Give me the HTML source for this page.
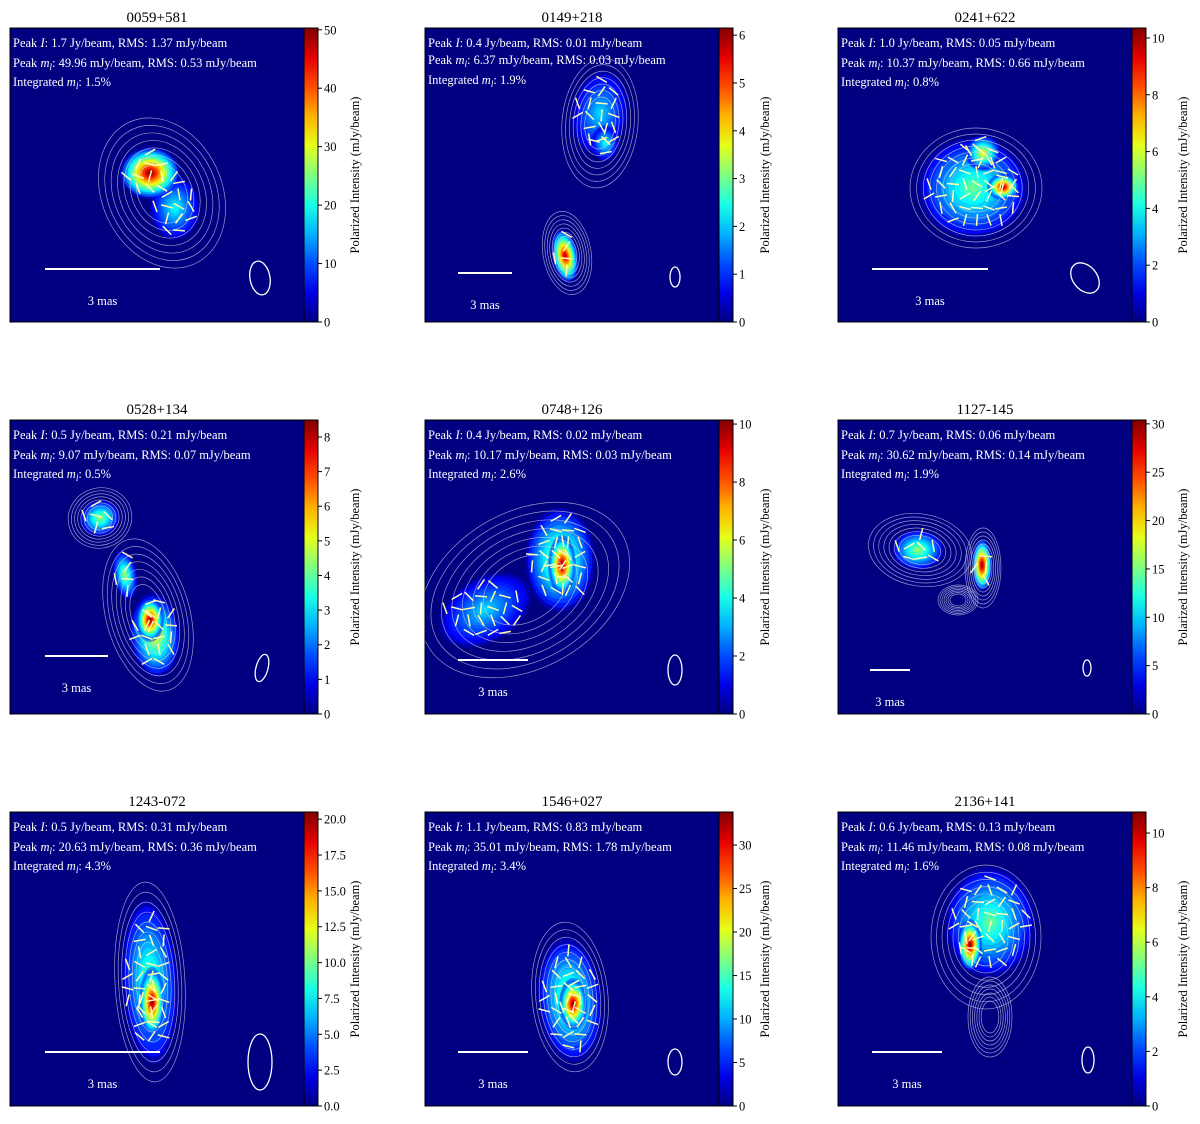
<!DOCTYPE html>
<html><head><meta charset="utf-8">
<style>
body{margin:0;background:#fff;}
svg text{font-family:"Liberation Serif","DejaVu Serif",serif;}
</style></head>
<body>
<svg id="fig" width="1200" height="1119" xmlns="http://www.w3.org/2000/svg"></svg>
<script>
// ---- data arrays ----
const titles=["0059+581","0149+218","0241+622","0528+134","0748+126","1127-145","1243-072","1546+027","2136+141"];
const peakI=["1.7","0.4","1.0","0.5","0.4","0.7","0.5","1.1","0.6"];
const rmsI=["1.37","0.01","0.05","0.21","0.02","0.06","0.31","0.83","0.13"];
const peakP=["49.96","6.37","10.37","9.07","10.17","30.62","20.63","35.01","11.46"];
const rmsP=["0.53","0.03","0.66","0.07","0.03","0.14","0.36","1.78","0.08"];
const intM=["1.5","1.9","0.8","0.5","2.6","1.9","4.3","3.4","1.6"];
const cbMax=[50.3,6.15,10.35,8.49,10.14,30.4,20.5,33.8,10.77];
const cbStep=[10,1,2,1,2,5,2.5,5,2];
const cbDec=[0,0,0,0,0,0,1,0,0];
// blob components per panel: [cx, cy, rx, ry, rot, amplitude(fraction of peak)]
const blobs=[
 [[165,180,25,32,0,0.35],[140,145,30,26,0,1.0]],
 [[175,85,28,42,10,0.3],[180,115,14,18,0,0.35],[140,228,13,27,-10,0.95]],
 [[135,160,55,50,0,0.45],[145,125,18,18,0,0.6],[165,159,16,13,0,1.0]],
 [[90,98,20,18,-20,0.5],[115,155,12,25,-10,0.5],[145,215,25,42,-5,0.6],[140,200,14,22,0,1.0]],
 [[60,190,50,32,-30,0.3],[135,140,35,52,0,0.55],[137,145,14,30,0,1.0]],
 [[80,130,26,20,0,0.5],[144,145,10,26,0,1.0]],
 [[140,170,28,82,-3,0.45],[142,190,13,35,0,1.0]],
 [[145,188,32,62,-5,0.5],[148,192,14,26,0,1.0]],
 [[152,110,45,55,0,0.45],[132,133,12,26,0,1.0]]
];
// contour envelopes per panel: [cx, cy, rx, ry, rot]
const contours=[
 [[152,165,60,78,-25]],
 [[175,95,38,65,5],[142,225,24,42,-10]],
 [[138,160,66,60,0]],
 [[90,98,32,30,-20],[138,195,42,78,-15]],
 [[100,170,112,78,-30]],
 [[82,130,52,36,10],[145,148,18,40,0],[120,180,20,15,0]],
 [[140,170,35,100,-3]],
 [[145,185,38,75,-5]],
 [[148,125,55,72,0],[152,205,22,40,0]]
];
const scaleBar=[[35,150,241],[33,87,245],[34,150,241],[35,98,236],[33,103,240],[32,72,250],[35,150,240],[33,103,240],[34,104,240]];
const beams=[[250,250,10,17,-10],[250,249,5,10,0],[247,250,12,17,-40],[252,248,6,14,15],[250,250,7,15,0],[249,248,4,8,0],[250,250,12,28,0],[250,250,7,13,0],[250,248,6,13,0]];
const angles=[20,-60,75,-15,45,-80,10,60,-35,85,-5,30,-70,50,-25,70];

const NS="http://www.w3.org/2000/svg";
const svg=document.getElementById('fig');
function el(t,a,p){const e=document.createElementNS(NS,t);for(const k in a)e.setAttribute(k,a[k]);(p||svg).appendChild(e);return e;}
function jet(v){v=Math.max(0,Math.min(1,v));
 const r=Math.min(1,Math.max(0,1.5-Math.abs(4*v-3))),g=Math.min(1,Math.max(0,1.5-Math.abs(4*v-2))),b=Math.min(1,Math.max(0,1.5-Math.abs(4*v-1)));
 return `rgb(${Math.round(r*255)},${Math.round(g*255)},${Math.round(b*255)})`;}
const colX=[10,425,838],rowY=[28,420,812],S=294;
titles.forEach((t,i)=>{
 const x0=colX[i%3],y0=rowY[Math.floor(i/3)];
 const g=el('g',{transform:`translate(${x0},${y0})`});
 
 
 const tt=el('text',{x:S/2,y:-6,'text-anchor':'middle','font-size':15,fill:'#000'},g);tt.textContent=t;
 
 
 el('clipPath',{id:'c'+i},g).appendChild(el('rect',{x:0,y:0,width:S,height:S}));
 const bg=el('rect',{x:0,y:0,width:S,height:S,fill:jet(0)},g);
 
 
 const img=el('g',{'clip-path':`url(#c${i})`},g);
 // blobs
 blobs[i].forEach(b=>{
  const N=12;
  for(let k=0;k<N;k++){const f=1-k/N;const lv=b[5]*(k+1)/N;
   el('ellipse',{cx:b[0],cy:b[1],rx:b[2]*f,ry:b[3]*f,transform:`rotate(${b[4]} ${b[0]} ${b[1]})`,fill:jet(0.06+lv*0.94),opacity:k==0?0.45:0.85},img);}
 });
 // contours
 contours[i].forEach(c=>{
  for(let k=0;k<7;k++){const s=1-k*0.1;
   el('ellipse',{cx:c[0],cy:c[1],rx:c[2]*s,ry:c[3]*s,transform:`rotate(${c[4]} ${c[0]} ${c[1]})`,fill:'none',stroke:'#c8c8e8','stroke-width':0.7,opacity:0.75},img);}
 });
 // vectors
 let n=0;
 blobs[i].forEach(b=>{
  for(let dx=-b[2]*0.8;dx<=b[2]*0.8;dx+=12)for(let dy=-b[3]*0.8;dy<=b[3]*0.8;dy+=12){
   if((dx*dx)/(b[2]*b[2])+(dy*dy)/(b[3]*b[3])>0.7)continue;
   const a=angles[n++%angles.length]*Math.PI/180,L=6;const x=b[0]+dx,y=b[1]+dy;
   el('line',{x1:x-L*Math.sin(a),y1:y-L*Math.cos(a),x2:x+L*Math.sin(a),y2:y+L*Math.cos(a),stroke:'#ffffb0','stroke-width':1.5},img);}
 });
 // text
 const lines=[`Peak <tspan font-style="italic">I</tspan>: ${peakI[i]} Jy/beam, RMS: ${rmsI[i]} mJy/beam`,
  `Peak <tspan font-style="italic">m</tspan><tspan font-style="italic" font-size="9" dy="3">l</tspan><tspan dy="-3">: ${peakP[i]} mJy/beam, RMS: ${rmsP[i]} mJy/beam</tspan>`,
  `Integrated <tspan font-style="italic">m</tspan><tspan font-style="italic" font-size="9" dy="3">l</tspan><tspan dy="-3">: ${intM[i]}%</tspan>`];
 lines.forEach((l,k)=>{const te=el('text',{x:3,y:i==1?[19,36,56][k]:[19,39,58][k],'font-size':12.5,fill:'#fff'},g);te.innerHTML=l;
  
  });
 // scale bar, beam
 const sb=scaleBar[i];
 const sbl=el('line',{x1:sb[0],x2:sb[1],y1:sb[2],y2:sb[2],stroke:'#fff','stroke-width':2},g);
 
 
 const st=el('text',{x:(sb[0]+sb[1])/2,y:sb[2]+36,'text-anchor':'middle','font-size':12.5,fill:'#fff'},g);st.textContent='3 mas';
 
 
 const bm=beams[i];
 const be=el('ellipse',{cx:bm[0],cy:bm[1],rx:bm[2],ry:bm[3],transform:`rotate(${bm[4]} ${bm[0]} ${bm[1]})`,fill:'none',stroke:'#fff','stroke-width':1.3},g);
 
 
 el('rect',{x:0,y:0,width:S,height:S,fill:'none',stroke:'#000','stroke-width':1},g);
 // colorbar
 const cg=el('g',{transform:`translate(${S},0)`},g);
 
 
 const gid='gr'+i;const lg=el('linearGradient',{id:gid,x1:0,y1:1,x2:0,y2:0},el('defs',{},cg));
 for(let k=0;k<=10;k++)el('stop',{offset:k/10,'stop-color':jet(k/10)},lg);
 el('rect',{x:0,y:0,width:14,height:S,fill:`url(#${gid})`,stroke:'#000','stroke-width':1},cg);
 const yv=v=>S-v/cbMax[i]*S;
 for(let v=0;v<=cbMax[i]+1e-9;v+=cbStep[i]){const y=yv(v);
  el('line',{x1:14,x2:18,y1:y,y2:y,stroke:'#000'},cg);
  const tl=el('text',{x:20,y:y+4.5,'font-size':12.5,fill:'#000','font-family':'DejaVu Sans, sans-serif'},cg);tl.textContent=v.toFixed(cbDec[i]);
  
  }
 const lbl=el('text',{x:0,y:0,'font-size':12.5,fill:'#000','text-anchor':'middle',transform:`translate(${i%3==1?50:55},${S/2}) rotate(-90)`},cg);
 lbl.textContent='Polarized Intensity (mJy/beam)';
 
 
});
</script>
</body></html>
